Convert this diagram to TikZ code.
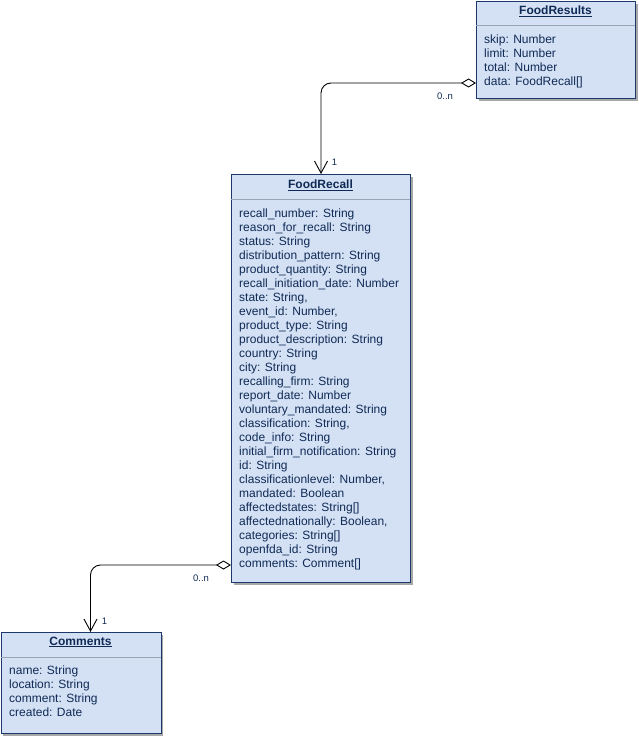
\documentclass[tikz,border=0pt]{standalone}
\usepackage{fontspec}
\setmainfont{Liberation Sans}
\usetikzlibrary{arrows.meta}
\definecolor{umlfill}{HTML}{D4E1F5}
\definecolor{umldraw}{HTML}{1B3A6B}
\definecolor{umltext}{HTML}{0F2A55}
\definecolor{umlsep}{HTML}{9AA4B4}
\definecolor{umlshadow}{HTML}{A8A8A8}
\tikzset{
  umlbox/.style={draw=umldraw, fill=umlfill, line width=0.9pt, anchor=north west, inner sep=0pt},
  umlshad/.style={fill=umlshadow, draw=none, anchor=north west, inner sep=0pt},
  umltitle/.style={font=\fontsize{12}{14}\selectfont\bfseries, text=umltext, inner sep=0pt},
  umlattrs/.style={font=\fontsize{12}{14}\selectfont, text=umltext, align=left, anchor=north west, inner sep=0pt},
  umlsepline/.style={draw=umlsep, line width=0.8pt},
  conn/.style={draw=black, line width=0.9pt, rounded corners=10pt,
    {Diamond[open, length=15pt, width=9pt]}-{Straight Barb[length=12pt, width=13pt]}},
  mult/.style={font=\fontsize{9.5}{11}\selectfont, text=umltext, inner sep=0pt}
}
\newcommand{\ul}[1]{\underline{#1}}
\begin{document}
\begin{tikzpicture}[x=1pt,y=-1pt]
\useasboundingbox (0,0) rectangle (639,738);
% shadows
\node[umlshad, minimum width=159pt, minimum height=97pt] (fress) at (479,4) {};
\node[umlshad, minimum width=179pt, minimum height=408pt] (frecs) at (234,177) {};
\node[umlshad, minimum width=160pt, minimum height=101pt] (coms) at (3,635) {};
% boxes
\node[umlbox, minimum width=159pt, minimum height=97pt] (fres) at (476,1) {};
\node[umlbox, minimum width=179pt, minimum height=408pt] (frec) at (231,174) {};
\node[umlbox, minimum width=160pt, minimum height=101pt] (com) at (0.5,632) {};
% separators
\draw[umlsepline] (476,25) -- (635,25);
\draw[umlsepline] (231,199) -- (410,199);
\draw[umlsepline] (0.5,657) -- (160.5,657);
% titles
\node[umltitle] (frest) at (555.5,11) {\ul{FoodResults}};
\node[umltitle] (frect) at (320.5,185) {\ul{FoodRecall}};
\node[umltitle] (comt) at (80.5,642) {\ul{Comments}};
% attributes
\node[umlattrs] (fresa) at (484,34.5) {skip: Number\\limit: Number\\total: Number\\data: FoodRecall[]};
\node[umlattrs] (freca) at (239,208.5) {recall\_number: String\\reason\_for\_recall: String\\status: String\\distribution\_pattern: String\\product\_quantity: String\\recall\_initiation\_date: Number\\state: String,\\event\_id: Number,\\product\_type: String\\product\_description: String\\country: String\\city: String\\recalling\_firm: String\\report\_date: Number\\voluntary\_mandated: String\\classification: String,\\code\_info: String\\initial\_firm\_notification: String\\id: String\\classificationlevel: Number,\\mandated: Boolean\\affectedstates: String[]\\affectednationally: Boolean,\\categories: String[]\\openfda\_id: String\\comments: Comment[]};
\node[umlattrs] (coma) at (9,665.5) {name: String\\location: String\\comment: String\\created: Date};
% connectors
\coordinate (a1) at (476,83);
\coordinate (a2) at (321,174);
\draw[conn] (a1) -| (a2);
\coordinate (b1) at (231,565);
\coordinate (b2) at (90.5,632);
\draw[conn] (b1) -| (b2);
% multiplicities
\node[mult] (m1) at (445,96) {0..n};
\node[mult] (m2) at (334.5,162) {1};
\node[mult] (m3) at (201,578) {0..n};
\node[mult] (m4) at (104.5,621) {1};
\end{tikzpicture}
\end{document}
